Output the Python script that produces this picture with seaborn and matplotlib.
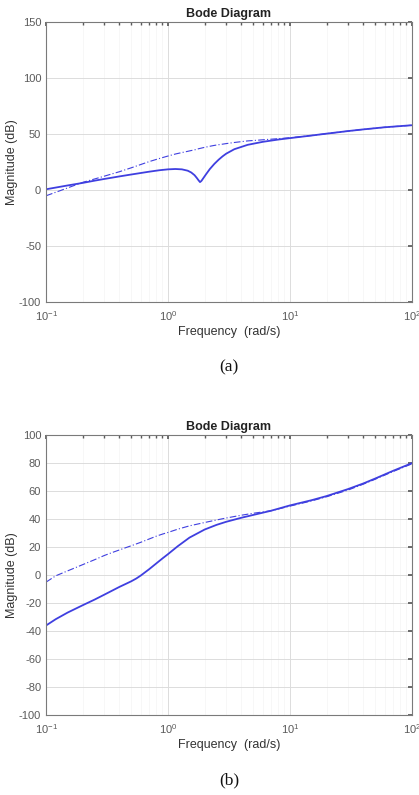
import numpy as np
import pandas as pd
import seaborn as sns
import matplotlib.pyplot as plt
from matplotlib.ticker import LogLocator, FixedLocator

# (a) magnitude curves
freq_a = [0.1, 0.13, 0.15, 0.2, 0.25, 0.3, 0.4, 0.5, 0.7, 0.85, 1.0, 1.15, 1.3, 1.45, 1.55, 1.65, 1.72,
          1.78, 1.83, 1.88, 1.95, 2.05, 2.2, 2.4, 2.6, 2.8, 3.0, 3.5, 4.5, 6.0, 8.0, 10, 15, 20, 30, 40, 60, 100]
solid_a = [0.8, 3.0, 4.2, 6.5, 8.5, 10.0, 12.3, 14.0, 16.5, 17.8, 18.6, 18.9, 18.6, 17.4, 15.8, 13.4, 11.0,
           8.8, 7.2, 8.3, 10.8, 14.2, 18.8, 23.5, 27.2, 30.2, 32.6, 36.6, 40.5, 43.2, 45.2, 46.5, 48.8, 50.5, 52.8, 54.3, 56.2, 58.0]
dash_a = [-5.0, -0.5, 2.0, 7.0, 10.0, 12.5, 16.5, 20.0, 25.5, 28.3, 30.5, 32.3, 33.6, 34.7, 35.4, 36.0, 36.5,
          37.0, 37.3, 37.6, 38.0, 38.5, 39.2, 40.0, 40.6, 41.1, 41.6, 42.6, 44.0, 45.0, 46.0, 46.8, 48.8, 50.5, 52.8, 54.3, 56.2, 58.0]

# (b) magnitude curves
freq_b = [0.1, 0.12, 0.15, 0.2, 0.25, 0.3, 0.35, 0.4, 0.45, 0.5, 0.55, 0.6, 0.7, 0.8, 0.9, 1.0, 1.2, 1.5,
          2.0, 2.5, 3.0, 4.0, 5.0, 7.0, 10, 15, 20, 30, 40, 50, 70, 100]
solid_b = [-36.0, -31.5, -26.8, -21.5, -17.5, -14.0, -11.0, -8.4, -6.3, -4.4, -2.4, -0.2, 4.2, 8.3, 11.9, 15.0,
           20.6, 26.8, 32.6, 35.9, 38.1, 41.0, 43.0, 46.0, 49.8, 53.5, 56.5, 61.5, 65.5, 69.0, 74.5, 80.0]
dash_b = [-5.0, -0.5, 3.0, 7.5, 11.0, 14.0, 16.2, 18.0, 19.6, 21.0, 22.3, 23.5, 25.8, 27.8, 29.3, 30.5,
          32.8, 35.2, 37.6, 39.4, 40.8, 42.8, 44.2, 46.0, 49.3, 53.0, 56.0, 60.8, 65.0, 68.5, 74.0, 79.5]

xticks = [0.1, 1, 10, 100]
xtick_labels = ['$10^{-1}$', '$10^{0}$', '$10^{1}$', '$10^{2}$']
yticks_a = [-100, -50, 0, 50, 100, 150]
yticks_b = [-100, -80, -60, -40, -20, 0, 20, 40, 60, 80, 100]

sns.set_theme(style='white')
plt.rcParams['font.family'] = ['Liberation Sans', 'DejaVu Sans']
plt.rcParams['mathtext.fontset'] = 'custom'
plt.rcParams['mathtext.rm'] = 'Liberation Sans'

blue = '#3f3fe0'
grey = '#5a5a5a'

fig = plt.figure(figsize=(4.19, 7.95), dpi=100)
ax_a = fig.add_axes([0.110, 0.620, 0.873, 0.352])
ax_b = fig.add_axes([0.110, 0.1006, 0.873, 0.352])


def draw(ax, freq, solid, dash, yticks, caption):
    df = pd.DataFrame({'f': freq, 'solid': solid, 'dash': dash})
    sns.lineplot(data=df, x='f', y='solid', ax=ax, color=blue, lw=1.3, estimator=None, sort=False)
    sns.lineplot(data=df, x='f', y='dash', ax=ax, color=blue, lw=0.8, linestyle=(0, (6, 2, 1, 2)),
                 estimator=None, sort=False)
    ax.set_xscale('log')
    ax.set_xlim(0.1, 100)
    ax.set_ylim(yticks[0], yticks[-1])
    ax.yaxis.set_major_locator(FixedLocator(yticks))
    ax.set_yticklabels([str(t) for t in yticks])
    ax.set_xticks(xticks)
    ax.set_xticklabels(xtick_labels)
    ax.xaxis.set_minor_locator(LogLocator(base=10, subs=np.arange(2, 10)))
    ax.grid(True, which='major', color='#dcdcdc', lw=0.7)
    ax.grid(True, which='minor', axis='x', color='#f6f6f6', lw=0.6)
    ax.tick_params(axis='both', which='both', direction='in', colors=grey, labelsize=8,
                   top=True, right=True, length=3)
    ax.tick_params(axis='both', which='minor', length=1.8)
    ax.tick_params(axis='x', pad=5)
    for s in ax.spines.values():
        s.set_color('#7a7a7a')
        s.set_linewidth(0.8)
    ax.set_xlabel('Frequency  (rad/s)', fontsize=9, color='#333333', labelpad=2)
    ax.set_ylabel('Magnitude (dB)', fontsize=9, color='#333333', labelpad=1)
    ax.set_title('Bode Diagram', fontsize=9, fontweight='bold', color='#222222', pad=4)
    ax.text(0.5, -0.235, caption, transform=ax.transAxes, ha='center', va='center',
            fontsize=12.5, family=['Liberation Serif', 'DejaVu Serif'], color='#111111')
    ax.set_axisbelow(True)


draw(ax_a, freq_a, solid_a, dash_a, yticks_a, '(a)')
draw(ax_b, freq_b, solid_b, dash_b, yticks_b, '(b)')

fig.savefig('out.png', dpi=100, facecolor='white')
